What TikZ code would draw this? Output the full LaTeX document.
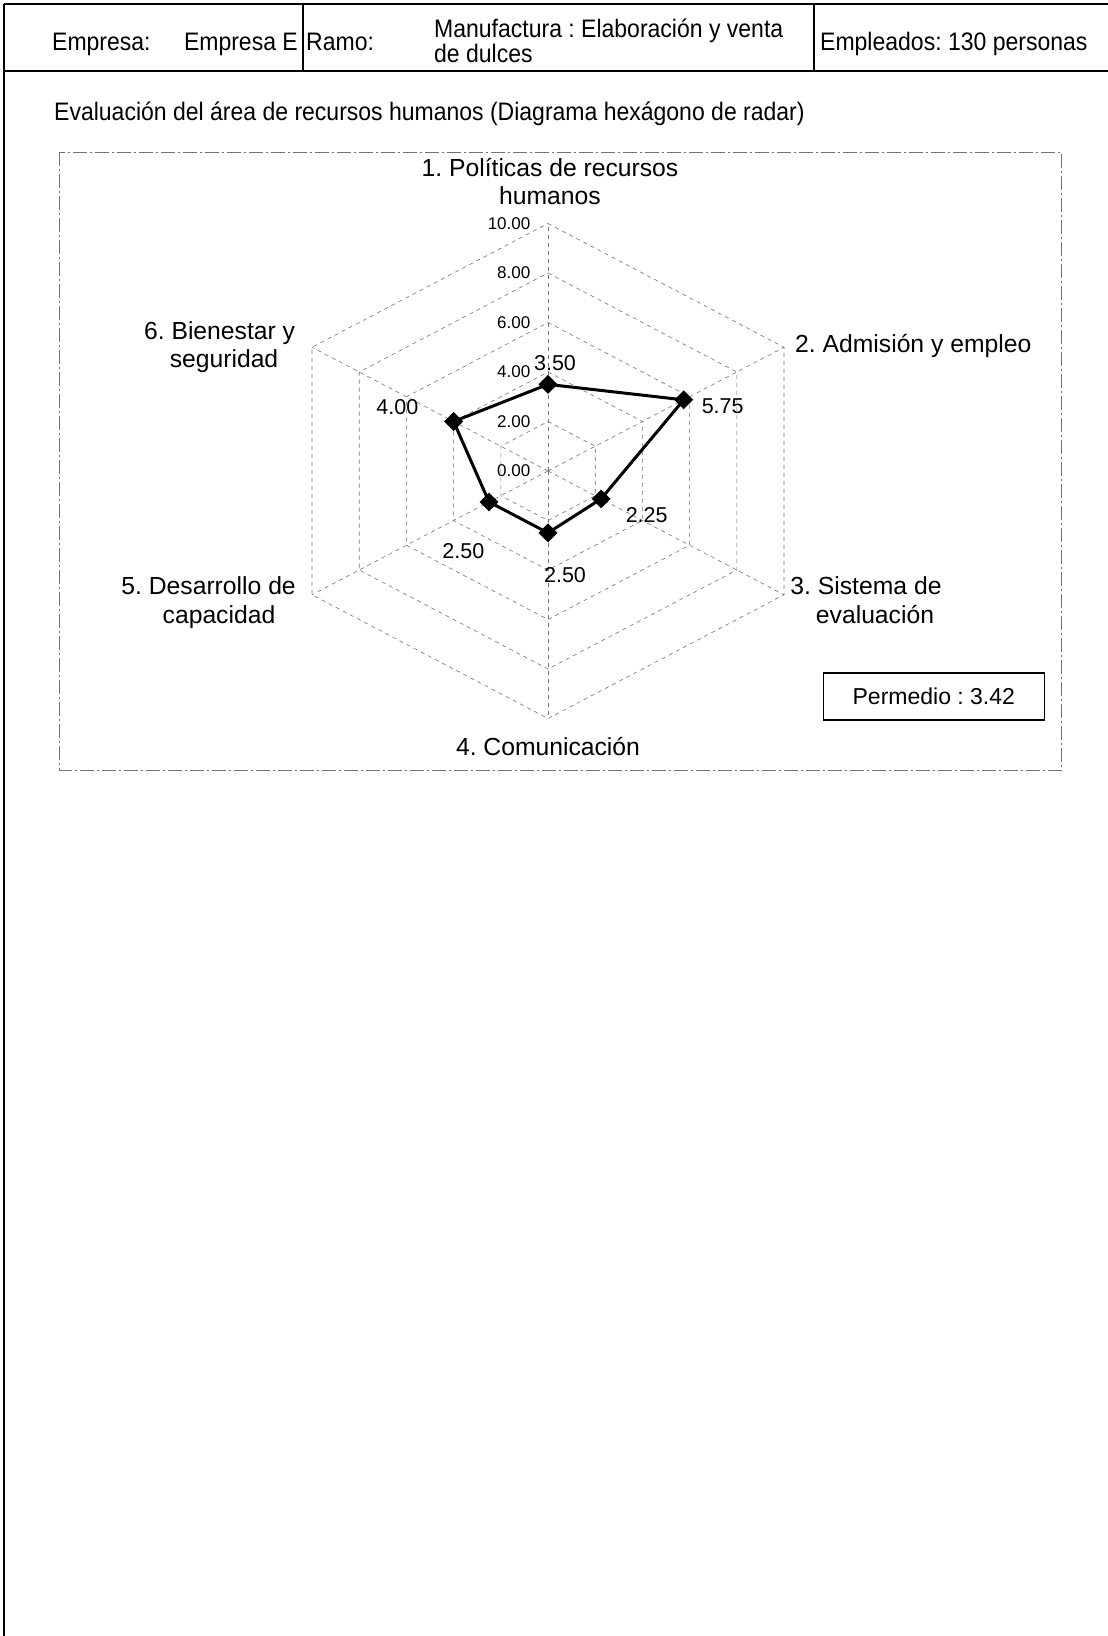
\documentclass[tikz,border=0pt]{standalone}
\usepackage{fontspec}
\setmainfont{Liberation Sans}
\usetikzlibrary{shapes.geometric}
\frenchspacing
% header lettering is set slightly taller than wide
\newcommand\tallbox[1]{\scalebox{1}[1.1]{#1}}
\begin{document}
\begin{tikzpicture}[x=1pt,y=-1pt,
  frameline/.style={line width=1.4pt,black},
  headrule/.style={line width=2.4pt,black},
  divider/.style={line width=2pt,black},
  gridline/.style={black!55,line width=0.6pt,dash pattern=on 4pt off 4pt},
  boxline/.style={black!55,line width=0.8pt,dash pattern=on 14pt off 3pt on 2pt off 3pt},
  dataline/.style={black,line width=3pt,line join=round},
  marker/.style={diamond,fill=black,inner sep=0pt,minimum width=19pt,minimum height=19pt},
  headtxt/.style={inner sep=0pt,font=\fontsize{23}{27}\selectfont},
  cattxt/.style={inner sep=0pt,font=\fontsize{24.7}{29}\selectfont},
  ticktxt/.style={inner sep=0pt,font=\fontsize{17}{20}\selectfont},
  valtxt/.style={inner sep=0pt,font=\fontsize{21.5}{25}\selectfont},
]
\useasboundingbox (0,0) rectangle (1108,1636);
\fill[white] (0,0) rectangle (1108,1636);

% page frame and header table
\draw[frameline] (4,4) -- (1108,4);
\draw[headrule] (4,71) -- (1108,71);
\draw[frameline] (4,4) -- (4,1636);
\draw[divider] (302.5,4) -- (302.5,71);
\draw[divider] (814,4) -- (814,71);

\node[headtxt,anchor=base west] (emp) at (52,50) {\tallbox{Empresa:}};
\node[headtxt,anchor=base east] (empv) at (298,50) {\tallbox{Empresa E}};
\node[headtxt,anchor=base west] (ramo) at (306,50) {\tallbox{Ramo:}};
\node[headtxt,anchor=base west] (manu1) at (434,37.5) {\tallbox{Manufactura : Elaboración y venta}};
\node[headtxt,anchor=base west] (manu2) at (434,62.6) {\tallbox{de dulces}};
\node[headtxt,anchor=base west] (empl) at (820,50) {\tallbox{Empleados: 130 personas}};

% title
\node[headtxt,anchor=base west] (title) at (54,120.5)
  {\tallbox{Evaluación del área de recursos humanos (Diagrama hexágono de radar)}};

% chart area
\draw[boxline] (59.5,152) rectangle (1061,770);

% radar grid and data
\begin{scope}[shift={(548,471)},x=27.25pt,y=24.75pt]
  \foreach \r in {2,4,6,8,10}
    \draw[gridline] (0,\r)
      \foreach \a in {30,-30,-90,-150,150} { -- ({\r*cos(\a)},{\r*sin(\a)}) } -- cycle;
  \foreach \a in {90,30,-30,-90,-150,150}
    \draw[gridline] (0,0) -- ({10*cos(\a)},{10*sin(\a)});
  \coordinate (p1) at ({3.50*cos(90)},{3.50*sin(90)});
  \coordinate (p2) at ({5.75*cos(30)},{5.75*sin(30)});
  \coordinate (p3) at ({2.25*cos(-30)},{2.25*sin(-30)});
  \coordinate (p4) at ({2.50*cos(-90)},{2.50*sin(-90)});
  \coordinate (p5) at ({2.50*cos(-150)},{2.50*sin(-150)});
  \coordinate (p6) at ({4.00*cos(150)},{4.00*sin(150)});
\end{scope}

\foreach \k in {1,...,6}
  \coordinate (m\k) at (p\k);
\draw[dataline] (m1) -- (m2) -- (m3) -- (m4) -- (m5) -- (m6) -- cycle;
\foreach \k in {1,...,6}
  \node[marker] (d\k) at (m\k) {};

% scale labels
\foreach \v/\t in {0/0.00,2/2.00,4/4.00,6/6.00,8/8.00,10/10.00}
  \node[ticktxt,anchor=east] (t\v) at (530.5,{471-\v*24.75}) {\t};

% data values
\node[valtxt] (v1) at (555,363.3) {3.50};
\node[valtxt] (v2) at (722.7,406) {5.75};
\node[valtxt] (v3) at (646.7,515) {2.25};
\node[valtxt] (v4) at (565,575) {2.50};
\node[valtxt] (v5) at (463.3,550.7) {2.50};
\node[valtxt] (v6) at (397.3,407.3) {4.00};

% axis names
\node[cattxt,anchor=base] (c1a) at (550,176) {1. Políticas de recursos};
\node[cattxt,anchor=base] (c1b) at (550,204) {humanos};
\node[cattxt,anchor=base west] (c2) at (795,352) {2. Admisión y empleo};
\node[cattxt,anchor=base] (c3a) at (866,594) {3. Sistema de};
\node[cattxt,anchor=base] (c3b) at (875,623) {evaluación};
\node[cattxt,anchor=base] (c4) at (548,755) {4. Comunicación};
\node[cattxt,anchor=base] (c5a) at (208.6,594) {5. Desarrollo de};
\node[cattxt,anchor=base] (c5b) at (219,623) {capacidad};
\node[cattxt,anchor=base] (c6a) at (219.6,339) {6. Bienestar y};
\node[cattxt,anchor=base] (c6b) at (224,367) {seguridad};

% average box
\node[headtxt,draw,line width=1.2pt,minimum width=221pt,minimum height=47pt]
  (avg) at (933.8,696.5) {Permedio : 3.42};
\end{tikzpicture}
\end{document}
